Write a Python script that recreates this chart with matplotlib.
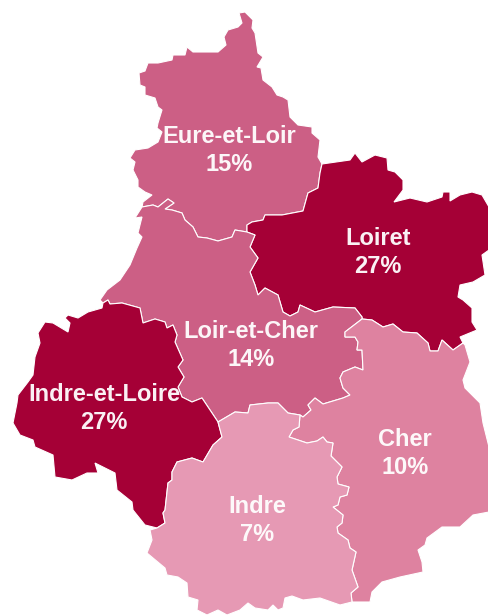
import matplotlib.pyplot as plt
from matplotlib.patches import Polygon

plt.rcParams['font.family'] = ['Liberation Sans', 'DejaVu Sans']

departements = ['Eure-et-Loir', 'Loiret', 'Loir-et-Cher', 'Indre-et-Loire', 'Cher', 'Indre']
parts = [15, 27, 14, 27, 10, 7]
label_pos = [(229, 150), (378, 252), (251, 345), (104, 408), (405, 453), (257, 520)]
couleurs = {7: '#E699B4', 10: '#DE82A0', 14: '#CC5F85', 15: '#CC5F85', 27: '#A50036'}

# borders in pixels of the picture, x then y
eure_outer = [(322, 164), (318, 157), (320, 140), (312, 133), (312, 127), (298, 125), (290, 117), (288, 100),
              (283, 97), (277, 95), (272, 87), (263, 80), (261, 68), (257, 67), (263, 57), (258, 53), (255, 33),
              (252, 28), (253, 20), (245, 12), (239, 13), (242, 23), (238, 27), (228, 30), (224, 37), (226, 45),
              (218, 52), (203, 52), (193, 52), (187, 47), (185, 55), (173, 55), (172, 60), (158, 63), (148, 63),
              (145, 71), (139, 73), (140, 85), (145, 87), (145, 95), (155, 98), (158, 107), (162, 110), (158, 123),
              (157, 128), (162, 132), (158, 142), (148, 148), (135, 150), (130, 158), (135, 162), (133, 170),
              (138, 180), (138, 187), (145, 192), (152, 195), (143, 202), (142, 207)]
eure_lc = [(142, 207), (153, 205), (158, 207), (168, 199), (174, 203), (165, 209), (172, 210), (182, 213),
           (185, 220), (193, 227), (198, 237), (207, 238), (218, 241), (232, 237), (235, 230), (247, 232)]
eure_loiret = [(247, 225), (252, 222), (263, 220), (265, 215), (282, 215), (303, 211), (308, 193), (318, 188),
               (320, 173), (322, 164)]
loiret_lc = [(247, 232), (255, 235), (250, 247), (258, 258), (250, 272), (255, 285), (258, 295), (265, 288),
             (278, 295), (283, 312), (290, 316), (298, 312), (300, 305), (315, 312), (333, 307), (355, 308),
             (362, 317), (362, 319)]
loiret_cher = [(362, 319), (372, 320), (383, 327), (393, 324), (403, 332), (417, 333), (428, 343), (430, 351),
               (438, 351), (442, 340), (453, 350), (463, 343)]
loiret_outer = [(463, 343), (460, 337), (477, 330), (472, 322), (472, 308), (463, 300), (458, 297), (460, 285),
                (473, 282), (485, 275), (482, 255), (489, 250), (489, 207), (482, 195), (472, 192), (460, 195),
                (450, 201), (450, 192), (443, 192), (442, 197), (427, 202), (410, 198), (394, 202), (403, 190),
                (403, 180), (395, 172), (388, 170), (387, 158), (375, 155), (362, 162), (355, 153), (350, 160),
                (322, 164)]
lc_outer = [(142, 207), (135, 218), (142, 217), (138, 233), (142, 237), (137, 248), (130, 265), (120, 280),
            (107, 290), (100, 300), (103, 303)]
lc_il = [(103, 303), (108, 300), (110, 304), (122, 303), (140, 308), (143, 323), (155, 319), (165, 322), (167, 328),
         (173, 325), (177, 335), (175, 342), (183, 360), (178, 367), (184, 377), (178, 387), (182, 397), (192, 402),
         (202, 398), (208, 407), (218, 422)]
lc_indre = [(218, 422), (235, 412), (248, 413), (250, 405), (268, 403), (278, 403), (288, 413), (300, 415)]
lc_cher = [(300, 415), (303, 417), (311, 410), (308, 405), (315, 398), (323, 404), (343, 398), (350, 395),
           (343, 388), (340, 378), (343, 372), (355, 367), (363, 370), (362, 350), (357, 350), (358, 342),
           (355, 337), (345, 337), (345, 332), (362, 319)]
il_indre = [(218, 422), (222, 437), (213, 445), (203, 462), (192, 458), (177, 462), (172, 472), (172, 480),
            (168, 483), (165, 510), (163, 513), (165, 523), (157, 528)]
il_outer = [(157, 528), (145, 525), (133, 510), (132, 502), (117, 490), (115, 473), (105, 468), (95, 463), (98, 473),
            (87, 473), (72, 480), (55, 477), (53, 455), (35, 447), (33, 440), (20, 435), (13, 423), (17, 403),
            (18, 395), (28, 382), (33, 375), (35, 357), (40, 343), (38, 333), (45, 322), (53, 323), (68, 332),
            (70, 323), (65, 318), (68, 315), (78, 318), (88, 312), (102, 308), (103, 303)]
indre_cher = [(300, 415), (299, 427), (293, 430), (289, 437), (295, 439), (307, 443), (317, 441), (323, 437),
              (327, 442), (333, 443), (331, 456), (342, 467), (337, 477), (338, 484), (349, 487), (347, 495),
              (340, 497), (338, 505), (333, 507), (343, 515), (342, 523), (337, 527), (338, 533), (348, 540),
              (350, 548), (356, 552), (352, 570), (358, 587), (351, 593), (352, 602)]
indre_outer = [(352, 602), (340, 605), (320, 598), (303, 600), (292, 596), (285, 598), (283, 608), (278, 610),
               (273, 605), (268, 610), (255, 608), (248, 603), (240, 610), (227, 615), (218, 610), (207, 615),
               (197, 610), (198, 600), (188, 597), (187, 583), (178, 577), (167, 575), (165, 568), (147, 553),
               (152, 540), (150, 530), (157, 528)]
cher_outer = [(352, 602), (370, 602), (372, 592), (382, 582), (400, 577), (423, 572), (422, 562), (418, 550),
              (425, 545), (427, 538), (442, 527), (460, 527), (473, 515), (489, 512), (489, 447), (483, 423),
              (480, 403), (465, 388), (463, 380), (470, 362), (465, 345), (463, 343)]

contours = {
    'Eure-et-Loir': eure_outer + eure_lc + eure_loiret,
    'Loiret': eure_loiret + loiret_outer[::-1] + loiret_cher[::-1] + loiret_lc[::-1],
    'Loir-et-Cher': eure_lc[::-1] + lc_outer + lc_il + lc_indre + lc_cher + loiret_lc[::-1],
    'Indre-et-Loire': lc_il + il_indre + il_outer,
    'Cher': loiret_cher + cher_outer[::-1] + indre_cher[::-1] + lc_cher,
    'Indre': lc_indre + indre_cher + indre_outer + il_indre[::-1],
}

fig = plt.figure(figsize=(4.89, 6.16), dpi=100)
ax = fig.add_axes([0, 0, 1, 1])

for nom, part, pos in zip(departements, parts, label_pos):
    ax.add_patch(Polygon(contours[nom], closed=True, facecolor=couleurs[part], edgecolor='white', linewidth=0.8))
    ax.text(pos[0], pos[1] + 0.5, f"{nom}\n{part}%", color='white', fontsize=17, fontweight='bold',
            ha='center', va='center', linespacing=1.24, alpha=0.95)

ax.set_xlim(0, 489)
ax.set_ylim(616, 0)
ax.axis('off')

fig.savefig('out.png', dpi=100)
